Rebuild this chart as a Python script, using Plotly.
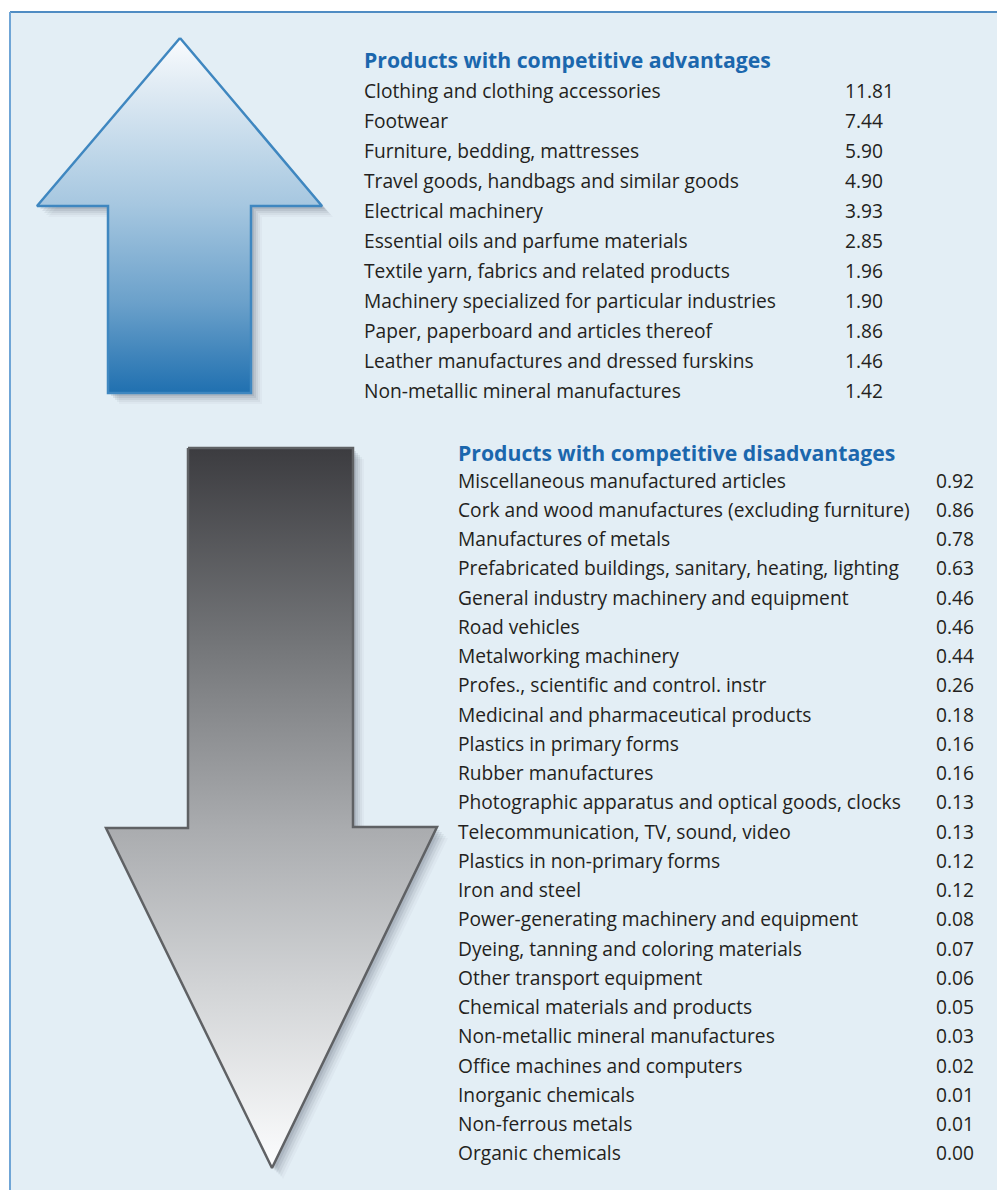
import plotly.graph_objects as go

# ---------------- data ----------------
adv_title = "Products with competitive advantages"
adv_products = [
    "Clothing and clothing accessories",
    "Footwear",
    "Furniture, bedding, mattresses",
    "Travel goods, handbags and similar goods",
    "Electrical machinery",
    "Essential oils and parfume materials",
    "Textile yarn, fabrics and related products",
    "Machinery specialized for particular industries",
    "Paper, paperboard and articles thereof",
    "Leather manufactures and dressed furskins",
    "Non-metallic mineral manufactures",
]
adv_values = [11.81, 7.44, 5.90, 4.90, 3.93, 2.85, 1.96, 1.90, 1.86, 1.46, 1.42]

dis_title = "Products with competitive disadvantages"
dis_products = [
    "Miscellaneous manufactured articles",
    "Cork and wood manufactures (excluding furniture)",
    "Manufactures of metals",
    "Prefabricated buildings, sanitary, heating, lighting",
    "General industry machinery and equipment",
    "Road vehicles",
    "Metalworking machinery",
    "Profes., scientific and control. instr",
    "Medicinal and pharmaceutical products",
    "Plastics in primary forms",
    "Rubber manufactures",
    "Photographic apparatus and optical goods, clocks",
    "Telecommunication, TV, sound, video",
    "Plastics in non-primary forms",
    "Iron and steel",
    "Power-generating machinery and equipment",
    "Dyeing, tanning and coloring materials",
    "Other transport equipment",
    "Chemical materials and products",
    "Non-metallic mineral manufactures",
    "Office machines and computers",
    "Inorganic chemicals",
    "Non-ferrous metals",
    "Organic chemicals",
]
dis_values = [0.92, 0.86, 0.78, 0.63, 0.46, 0.46, 0.44, 0.26, 0.18, 0.16, 0.16,
              0.13, 0.13, 0.12, 0.12, 0.08, 0.07, 0.06, 0.05, 0.03, 0.02, 0.01,
              0.01, 0.00]

# ---------------- layout constants ----------------
W, H = 997, 1190
FONT = "Open Sans"
TEXT_COLOR = "#231F20"
TITLE_COLOR = "#1B67AD"
BG = "#E3EEF5"
ROW_SIZE = 19.2
TITLE_SIZE = 21.2

# up arrow geometry (pixel space)
up_x = [180, 322, 251, 251, 108, 108, 37, 180]
up_y = [38, 206, 206, 393, 393, 206, 206, 38]
# down arrow geometry
dn_x = [188, 353, 353, 437, 272, 106, 188, 188]
dn_y = [448, 448, 827, 827, 1168, 828, 828, 448]

fig = go.Figure()

# background panel (fill + top/left border only)
fig.add_shape(type="rect", x0=10, y0=12, x1=W + 10, y1=H + 10,
              fillcolor=BG, line=dict(width=0), layer="below")
fig.add_shape(type="line", x0=10, y0=12, x1=W, y1=12,
              line=dict(color="#4F8CC3", width=2), layer="below")
fig.add_shape(type="line", x0=10, y0=12, x1=10, y1=H,
              line=dict(color="#6FA5D6", width=2), layer="below")


def add_shadow(xs, ys):
    for off, op in [(11, 0.04), (9, 0.06), (7, 0.08), (5, 0.10), (3, 0.12)]:
        fig.add_trace(go.Scatter(
            x=[v + off for v in xs], y=[v + off for v in ys], mode="lines",
            fill="toself", fillcolor=f"rgba(70,80,95,{op})",
            line=dict(width=0), hoverinfo="skip", showlegend=False))


add_shadow(up_x, up_y)
fig.add_trace(go.Scatter(
    x=up_x, y=up_y, mode="lines", fill="toself",
    fillgradient=dict(type="vertical", start=38, stop=393,
                      colorscale=[[0.0, "#FAFCFE"], [0.12, "#E3EDF5"],
                                  [0.47, "#A6C7E0"], [0.75, "#6AA0CA"],
                                  [1.0, "#2070B0"]]),
    line=dict(color="#3F87C0", width=2.5), hoverinfo="skip", showlegend=False))

add_shadow(dn_x, dn_y)
fig.add_trace(go.Scatter(
    x=dn_x, y=dn_y, mode="lines", fill="toself",
    fillgradient=dict(type="vertical", start=448, stop=1168,
                      colorscale=[[0.0, "#3C3C40"], [0.27, "#737578"],
                                  [0.53, "#AAACAF"], [0.75, "#D2D4D6"],
                                  [1.0, "#FCFDFE"]]),
    line=dict(color="#5F6164", width=2.5), hoverinfo="skip", showlegend=False))

annotations = []


def block(title, names, vals, x_text, x_val, y_title, y0, dy):
    annotations.append(dict(x=x_text, y=y_title, text=f"<b>{title}</b>",
                            xanchor="left", yanchor="middle", showarrow=False,
                            font=dict(family=FONT, size=TITLE_SIZE, color=TITLE_COLOR)))
    for i, (n, v) in enumerate(zip(names, vals)):
        y = y0 + dy * i
        annotations.append(dict(x=x_text, y=y, text=n, xanchor="left",
                                yanchor="middle", showarrow=False,
                                font=dict(family=FONT, size=ROW_SIZE, color=TEXT_COLOR)))
        annotations.append(dict(x=x_val, y=y, text=f"{v:.2f}", xanchor="left",
                                yanchor="middle", showarrow=False,
                                font=dict(family=FONT, size=ROW_SIZE, color=TEXT_COLOR)))


block(adv_title, adv_products, adv_values, 362, 843, 59, 90, 30.0)
block(dis_title, dis_products, dis_values, 456, 934, 452, 480, 29.25)

for a in annotations:
    a["xref"] = "x"
    a["yref"] = "y"

fig.update_layout(
    width=W, height=H, margin=dict(l=0, r=0, t=0, b=0),
    paper_bgcolor="white", plot_bgcolor="white",
    xaxis=dict(range=[0, W], visible=False, fixedrange=True),
    yaxis=dict(range=[H, 0], visible=False, fixedrange=True),
    annotations=annotations, showlegend=False,
)

fig.write_html("out.html", config={"displayModeBar": False},
               post_script="document.body.style.margin='0';"
                           "document.body.style.overflow='hidden';")
